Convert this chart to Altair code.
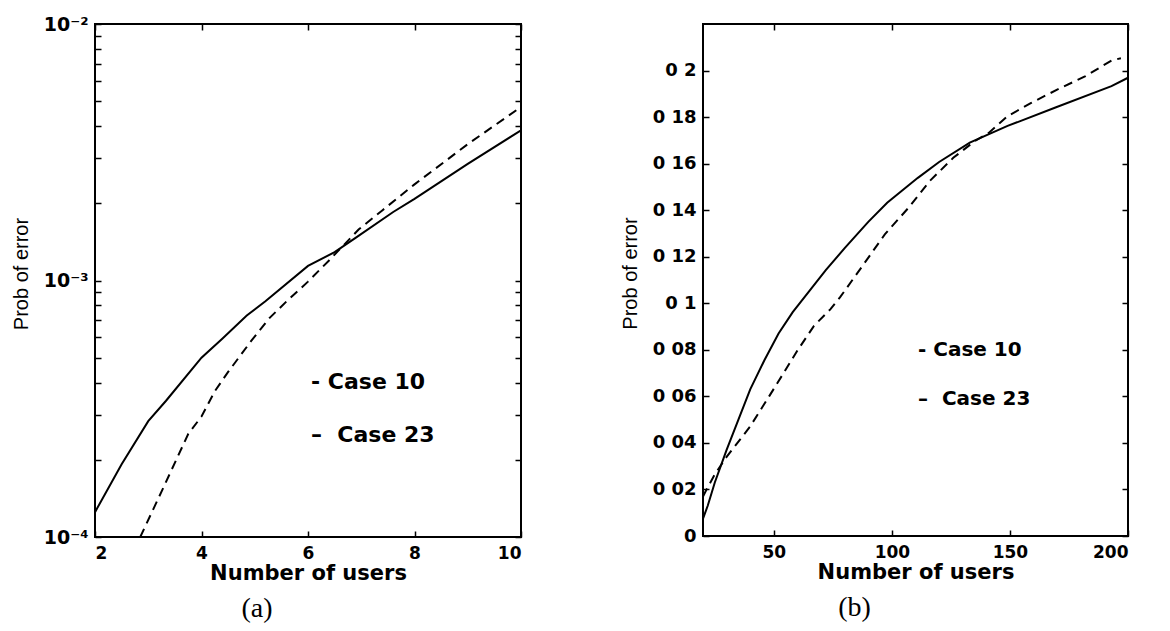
import altair as alt
import pandas as pd

# ---------------- data: panel (a) (log scale) ----------------
a_case10_x = [2, 2.5, 3, 3.33, 4, 4.4, 4.85, 5.2, 6, 6.5, 6.9, 7.6, 8, 9, 10]
a_case10_y = [1.25e-4, 1.92e-4, 2.83e-4, 3.39e-4, 5.0e-4, 5.96e-4, 7.3e-4, 8.3e-4,
              1.14e-3, 1.29e-3, 1.47e-3, 1.85e-3, 2.08e-3, 2.85e-3, 3.85e-3]
a_case23_x = [2.85, 3.26, 3.75, 4.0, 4.25, 4.5, 4.93, 5.28, 5.6, 6.0, 6.4, 6.95, 7.4, 8, 9, 10]
a_case23_y = [1.0e-4, 1.52e-4, 2.52e-4, 2.95e-4, 3.7e-4, 4.4e-4, 5.8e-4, 7.15e-4, 8.3e-4,
              9.9e-4, 1.2e-3, 1.58e-3, 1.88e-3, 2.37e-3, 3.4e-3, 4.75e-3]

a_x_ticks = [2, 4, 6, 8, 10]
a_y_ticks = [0.0001, 0.0002, 0.0003, 0.0004, 0.0005, 0.0006, 0.0007, 0.0008, 0.0009,
             0.001, 0.002, 0.003, 0.004, 0.005, 0.006, 0.007, 0.008, 0.009, 0.01]
a_y_label_values = [0.0001, 0.001, 0.01]
a_y_label_texts = ["10⁻⁴", "10⁻³", "10⁻²"]

# ---------------- data: panel (b) (linear) ----------------
b_case10_x = [20, 22, 25, 30, 35, 40, 46, 52, 58, 65, 72, 80, 90, 98, 111, 120, 133, 149, 169, 193, 200]
b_case10_y = [0.0075, 0.013, 0.023, 0.037, 0.050, 0.063, 0.0755, 0.087, 0.0962, 0.1052, 0.1142,
              0.1237, 0.1350, 0.1432, 0.1539, 0.1607, 0.1690, 0.1762, 0.1840, 0.1933, 0.1969]
b_case23_x = [20, 21.5, 25, 30, 33.5, 40, 48, 54, 60, 67, 74, 78, 88, 97, 107, 116, 126, 135,
              141, 149, 159, 170, 182, 193, 197]
b_case23_y = [0.017, 0.020, 0.0265, 0.034, 0.0386, 0.0471, 0.060, 0.0698, 0.0797, 0.0903, 0.0975,
              0.1025, 0.1167, 0.1296, 0.141, 0.1525, 0.1625, 0.1696, 0.1732, 0.1804, 0.1861,
              0.1918, 0.1976, 0.2043, 0.2053]

b_x_ticks = [50, 100, 150, 200]
b_y_ticks = [0, 0.02, 0.04, 0.06, 0.08, 0.1, 0.12, 0.14, 0.16, 0.18, 0.2]
b_y_labels = ["0", "0 02", "0 04", "0 06", "0 08", "0 1", "0 12", "0 14", "0 16", "0 18", "0 2"]

legend_texts = ["- Case 10", "–\u00a0\u00a0Case 23"]
captions = ["(a)", "(b)"]
x_title = "Number of users"
y_title = "Prob of error"

SANS = "DejaVu Sans"
TITLE_SANS = "Liberation Sans, Arial, sans-serif"
SERIF = "Liberation Serif"


def label_expr(values, texts):
    expr = "''"
    for v, t in reversed(list(zip(values, texts))):
        expr = f"datum.value == {v} ? '{t}' : ({expr})"
    return expr


def label_axis(orient, values, expr, title, label_size, h=None):
    kw = dict(orient=orient, values=values, labelExpr=expr, tickSize=6, offset=-6,
              domain=False, grid=False, tickColor="black", tickWidth=1.5,
              labelColor="black", labelFont=SANS, labelFontSize=label_size,
              labelFontWeight="bold")
    if orient == "left":
        kw.update(labelPadding=7, title=title, titleFont=TITLE_SANS, titleFontSize=20,
                  titleFontWeight="normal", titlePadding=12, titleColor="black",
                  titleY=h / 2 - 7)
    else:
        kw.update(labelPadding=8, title=title, titleFont=SANS, titleFontSize=21,
                  titleFontWeight="bold", titlePadding=1, titleColor="black")
    return alt.Axis(**kw)


def tick_axis(orient, values):
    return alt.Axis(orient=orient, values=values, labels=False, tickSize=6, offset=-6,
                    domain=False, grid=False, tickColor="black", tickWidth=1.5)


def panel(x10, y10, x23, y23, xscale, yscale, xticks, yticks, yexpr, ylabel_size,
          legend_pos, legend_size, caption, cap_dx, w, h):
    df10 = pd.DataFrame({"x": x10, "y": y10})
    df23 = pd.DataFrame({"x": x23, "y": y23})
    xexpr = "format(datum.value, 'd')"
    solid = alt.Chart(df10).mark_line(color="black", strokeWidth=2, clip=True).encode(
        x=alt.X("x:Q", scale=xscale, axis=label_axis("bottom", xticks, xexpr, x_title, 17)),
        y=alt.Y("y:Q", scale=yscale, axis=label_axis("left", yticks, yexpr, y_title, ylabel_size, h)),
        order="x:Q",
    )
    dashed = alt.Chart(df23).mark_line(color="black", strokeWidth=2, strokeDash=[9, 6], clip=True).encode(
        x=alt.X("x:Q", scale=xscale, axis=tick_axis("top", xticks), title=None),
        y=alt.Y("y:Q", scale=yscale, axis=tick_axis("right", yticks), title=None),
        order="x:Q",
    )
    frame = alt.Chart(pd.DataFrame({"f": [0]})).mark_rect(
        fillOpacity=0, stroke="black", strokeWidth=2
    ).encode(x=alt.value(0), x2=alt.value(w), y=alt.value(0), y2=alt.value(h))
    texts = []
    for txt, (px, py) in zip(legend_texts, legend_pos):
        texts.append(
            alt.Chart(pd.DataFrame({"t": [txt]})).mark_text(
                align="left", baseline="middle", font=SANS, fontSize=legend_size,
                fontWeight="bold", color="black"
            ).encode(text="t:N", x=alt.value(px), y=alt.value(py))
        )
    return alt.layer(solid, dashed, frame, *texts).resolve_scale(x="independent", y="independent").properties(
        width=w, height=h,
        title=alt.TitleParams(text=caption, orient="bottom", anchor="middle", font=SERIF,
                              fontSize=28, fontWeight="normal", color="black", dx=cap_dx, offset=12),
    )


left = panel(
    a_case10_x, a_case10_y, a_case23_x, a_case23_y,
    alt.Scale(domain=[2, 10], nice=False, zero=False),
    alt.Scale(type="log", domain=[1e-4, 1e-2], nice=False),
    a_x_ticks, a_y_ticks, label_expr(a_y_label_values, a_y_label_texts), 19,
    [(216, 358), (216, 411)], 22, captions[0], -51, 426, 513,
)

right = panel(
    b_case10_x, b_case10_y, b_case23_x, b_case23_y,
    alt.Scale(domain=[20, 200], nice=False, zero=False),
    alt.Scale(domain=[0, 0.22], nice=False, zero=False),
    b_x_ticks, b_y_ticks, label_expr(b_y_ticks, b_y_labels), 18,
    [(215, 326), (215, 375)], 20, captions[1], -61, 425, 512,
)

chart = alt.hconcat(left, right, spacing=182, bounds="flush").properties(
    padding={"left": 2, "top": 6, "right": 5, "bottom": 5}
).configure(background="white").configure_view(stroke="black", strokeWidth=2)

chart.save("out.html", embed_options={"renderer": "svg", "actions": False})
